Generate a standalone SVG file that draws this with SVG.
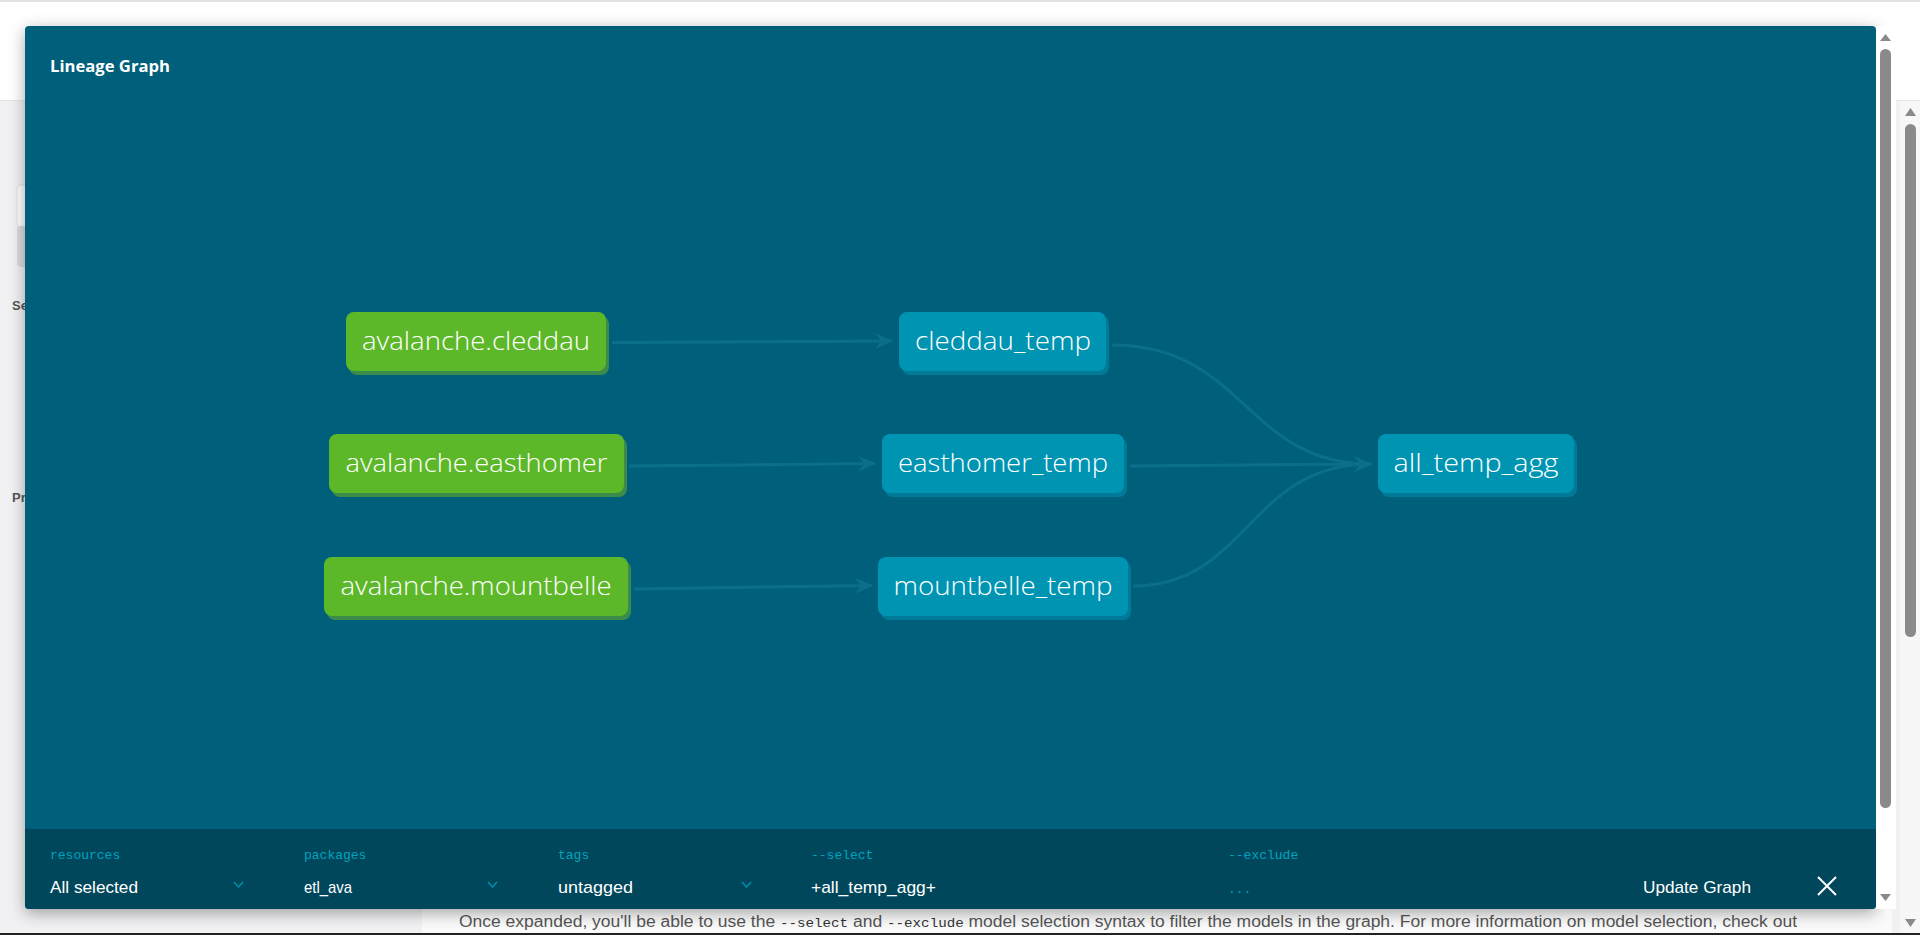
<svg xmlns="http://www.w3.org/2000/svg" width="1920" height="935" viewBox="0 0 1920 935">
<defs>
<style>
.bgtext{font-family:"Liberation Sans",Arial,sans-serif;font-weight:bold;font-size:13px;fill:#555}
.title{font-family:"Open Sans","Liberation Sans",sans-serif;font-weight:700;font-size:16px;fill:#ffffff}
.lbl{font-family:"Open Sans","Liberation Sans",sans-serif;font-weight:300;font-size:26px;fill:#ffffff;text-anchor:middle}
.green{fill:#5db829}
.greensh{fill:#3b8b4a}
.blue{fill:#0094b3}
.bluesh{fill:#007a97}
.edge{fill:none;stroke:#0b6f8b;stroke-width:3}
.tlabel{font-family:"Liberation Mono","DejaVu Sans Mono",monospace;font-size:13px;fill:#00a3bf}
.tval{font-family:"Liberation Sans",Arial,sans-serif;font-size:17px;fill:#ffffff}
.chev{fill:none;stroke:#0096b3;stroke-width:1.2}
.foot{font-family:"Liberation Sans",Arial,sans-serif;font-size:16px;fill:#555}
.mono{font-family:"Liberation Mono","DejaVu Sans Mono",monospace;font-size:13px;fill:#333}
</style>
<marker id="arr" viewBox="0 0 18 16" refX="17" refY="8" markerWidth="18" markerHeight="16" markerUnits="userSpaceOnUse" orient="auto">
<path d="M0,0 L18,8 L0,16 L6,8 Z" fill="#0b6f8b"/>
</marker>
<filter id="msh" x="-5%" y="-5%" width="110%" height="110%">
<feDropShadow dx="0" dy="4" stdDeviation="8" flood-color="#000" flood-opacity="0.35"/>
</filter>
</defs>

<!-- page behind -->
<rect x="0" y="0" width="1920" height="935" fill="#f1f1f3"/>
<rect x="0" y="0" width="1920" height="100" fill="#ffffff"/>
<rect x="0" y="0" width="1920" height="2" fill="#e2e2e2"/>
<rect x="0" y="100" width="1920" height="1" fill="#e6e6e6"/>
<rect x="422" y="100" width="1470" height="835" fill="#fafafa"/>
<rect x="17" y="185" width="20" height="42" rx="4" fill="#ffffff" stroke="#e2e2e4"/>
<rect x="17" y="226" width="20" height="41" rx="4" fill="#dcdce0"/>
<text class="bgtext" x="12" y="310">Se</text>
<text class="bgtext" x="12" y="502">Pr</text>
<text class="foot" x="459" y="927" textLength="1338" lengthAdjust="spacingAndGlyphs">Once expanded, you'll be able to use the <tspan class="mono">--select</tspan> and <tspan class="mono">--exclude</tspan> model selection syntax to filter the models in the graph. For more information on model selection, check out</text>
<rect x="0" y="933" width="1920" height="2" fill="#222"/>

<!-- outer scrollbar -->
<g id="scroll-outer">
<rect x="1900" y="101" width="20" height="832" fill="#f7f7f7"/>
<path d="M1905,116 L1910.5,108 L1916,116 Z" fill="#8a8a8a"/>
<rect x="1905" y="124" width="11" height="513" rx="5.5" fill="#8a8a8a"/>
<path d="M1905,919 L1910.5,927 L1916,919 Z" fill="#8a8a8a"/>
</g>

<!-- modal -->
<g id="modal">
<rect x="25" y="26" width="1851" height="883" rx="4" fill="#005e7a" filter="url(#msh)"/>
<path d="M25,829 H1876 V905 a4,4 0 0 1 -4,4 H29 a4,4 0 0 1 -4,-4 Z" fill="#00475b"/>
<text class="title" x="50" y="72" textLength="120" lengthAdjust="spacingAndGlyphs">Lineage Graph</text>
</g>

<!-- modal scrollbar -->
<g id="scroll-modal">
<rect x="1876" y="26" width="20" height="883" fill="#ffffff"/>
<path d="M1880,41 L1885.5,34 L1891,41 Z" fill="#8a8a8a"/>
<rect x="1880" y="49" width="11" height="759" rx="5.5" fill="#8a8a8a"/>
<path d="M1880,894 L1885.5,901 L1891,894 Z" fill="#8a8a8a"/>
</g>

<!-- connectors -->
<g id="connectors">
<path class="edge" d="M612,342.5 L892,341" marker-end="url(#arr)"/>
<path class="edge" d="M629,466 L875,463.5" marker-end="url(#arr)"/>
<path class="edge" d="M634,589 L872,585.5" marker-end="url(#arr)"/>
<path class="edge" d="M1112,345 C1245,345 1245,464 1371,464" marker-end="url(#arr)"/>
<path class="edge" d="M1130,466 L1371,464" marker-end="url(#arr)"/>
<path class="edge" d="M1133,586 C1248,586 1248,464 1371,464" marker-end="url(#arr)"/>
</g>

<!-- nodes -->
<g id="node-avalanche-cleddau">
<rect class="greensh" x="349" y="316" width="260" height="59" rx="8"/>
<rect class="green" x="346" y="312" width="260" height="59" rx="8"/>
<text class="lbl" x="476" y="350" textLength="228" lengthAdjust="spacingAndGlyphs">avalanche.cleddau</text>
</g>
<g id="node-avalanche-easthomer">
<rect class="greensh" x="332" y="438" width="295" height="59" rx="8"/>
<rect class="green" x="329" y="434" width="295" height="59" rx="8"/>
<text class="lbl" x="476.5" y="472" textLength="262" lengthAdjust="spacingAndGlyphs">avalanche.easthomer</text>
</g>
<g id="node-avalanche-mountbelle">
<rect class="greensh" x="327" y="561" width="304" height="59" rx="8"/>
<rect class="green" x="324" y="557" width="304" height="59" rx="8"/>
<text class="lbl" x="476" y="595" textLength="271" lengthAdjust="spacingAndGlyphs">avalanche.mountbelle</text>
</g>
<g id="node-cleddau-temp">
<rect class="bluesh" x="902" y="316" width="207" height="59" rx="8"/>
<rect class="blue" x="899" y="312" width="207" height="59" rx="8"/>
<text class="lbl" x="1003" y="350" textLength="176" lengthAdjust="spacingAndGlyphs">cleddau_temp</text>
</g>
<g id="node-easthomer-temp">
<rect class="bluesh" x="885" y="438" width="242" height="59" rx="8"/>
<rect class="blue" x="882" y="434" width="242" height="59" rx="8"/>
<text class="lbl" x="1003" y="472" textLength="210" lengthAdjust="spacingAndGlyphs">easthomer_temp</text>
</g>
<g id="node-mountbelle-temp">
<rect class="bluesh" x="881" y="561" width="250" height="59" rx="8"/>
<rect class="blue" x="878" y="557" width="250" height="59" rx="8"/>
<text class="lbl" x="1003" y="595" textLength="219" lengthAdjust="spacingAndGlyphs">mountbelle_temp</text>
</g>
<g id="node-all-temp-agg">
<rect class="bluesh" x="1381" y="438" width="196" height="59" rx="8"/>
<rect class="blue" x="1378" y="434" width="196" height="59" rx="8"/>
<text class="lbl" x="1476" y="472" textLength="165" lengthAdjust="spacingAndGlyphs">all_temp_agg</text>
</g>

<!-- toolbar -->
<g id="toolbar">
<text class="tlabel" x="50" y="859">resources</text>
<text class="tval" x="50" y="893" textLength="88" lengthAdjust="spacingAndGlyphs">All selected</text>
<path class="chev" d="M234,882 L238.5,887 L243,882"/>
<text class="tlabel" x="304" y="859">packages</text>
<text class="tval" x="304" y="893" textLength="48" lengthAdjust="spacingAndGlyphs">etl_ava</text>
<path class="chev" d="M488,882 L492.5,887 L497,882"/>
<text class="tlabel" x="558" y="859">tags</text>
<text class="tval" x="558" y="893" textLength="75" lengthAdjust="spacingAndGlyphs">untagged</text>
<path class="chev" d="M742,882 L746.5,887 L751,882"/>
<text class="tlabel" x="811" y="859">--select</text>
<text class="tval" x="811" y="893" textLength="125" lengthAdjust="spacingAndGlyphs">+all_temp_agg+</text>
<text class="tlabel" x="1228" y="859">--exclude</text>
<text class="tlabel" x="1228" y="893">...</text>
<text class="tval" x="1643" y="893" textLength="108" lengthAdjust="spacingAndGlyphs">Update Graph</text>
<path d="M1818,877 L1836,895 M1836,877 L1818,895" stroke="#ffffff" stroke-width="2" fill="none"/>
</g>
</svg>
